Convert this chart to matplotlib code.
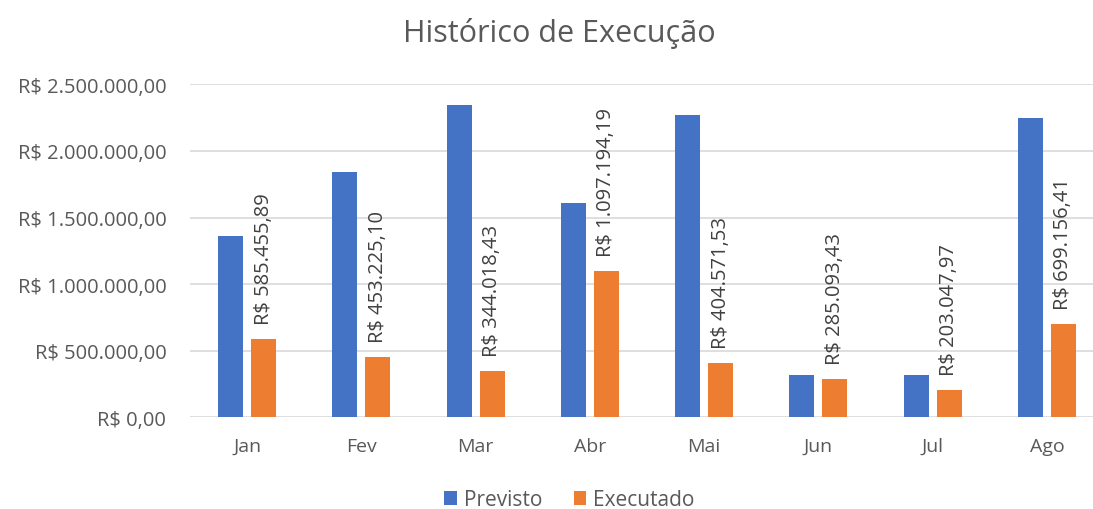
import numpy as np
import matplotlib.pyplot as plt
from matplotlib.ticker import FuncFormatter

meses = ['Jan', 'Fev', 'Mar', 'Abr', 'Mai', 'Jun', 'Jul', 'Ago']
previsto = [1363000, 1839000, 2345000, 1609000, 2266000, 318000, 318000, 2245000]
executado = [585455.89, 453225.10, 344018.43, 1097194.19, 404571.53, 285093.43, 203047.97, 699156.41]

BLUE = '#4472C4'
ORANGE = '#ED7D31'
GRAY = '#595959'

plt.rcParams['font.family'] = ['Open Sans', 'DejaVu Sans']


def brl(v, pos=None):
    s = f"{v:,.2f}"
    s = s.replace(',', 'X').replace('.', ',').replace('X', '.')
    return f"R$ {s}"


fig = plt.figure(figsize=(10.93, 5.10), dpi=100)
ax = fig.add_axes([0.1738, 0.1798, 0.8363, 0.6529])

x = np.arange(len(meses))
w = 0.219
off = 0.144
ax.bar(x - off, previsto, w, color=BLUE, label='Previsto', zorder=3)
bars = ax.bar(x + off, executado, w, color=ORANGE, label='Executado', zorder=3)

for b, v in zip(bars, executado):
    ax.annotate(brl(v), (b.get_x() + b.get_width() / 2, v),
                xytext=(0, 11), textcoords='offset points',
                rotation=90, ha='center', va='bottom',
                fontsize=14.5, color='#404040')

ax.set_xlim(-0.5, len(meses) - 0.5)
ax.set_ylim(0, 2500000)
ax.set_yticks(np.arange(0, 2500001, 500000))
ax.yaxis.set_major_formatter(FuncFormatter(brl))
ax.set_xticks(x)
ax.set_xticklabels(meses)
ax.tick_params(axis='both', length=0, labelsize=14.5, labelcolor=GRAY)
ax.tick_params(axis='x', labelsize=14)
ax.tick_params(axis='y', pad=17)
ax.tick_params(axis='x', pad=14)
ax.grid(axis='y', color='#d9d9d9', lw=1.2, zorder=0)
for sp in ax.spines.values():
    sp.set_visible(False)

fig.text(0.512, 0.935, 'Histórico de Execução', ha='center', va='center',
         fontsize=22, color=GRAY)

fig.legend(loc='center', bbox_to_anchor=(0.521, 0.018), ncol=2, frameon=False,
           fontsize=15, labelcolor=GRAY, handlelength=0.6, handleheight=0.6,
           handletextpad=0.35, columnspacing=1.5)

fig.savefig('out.png', dpi=100)
